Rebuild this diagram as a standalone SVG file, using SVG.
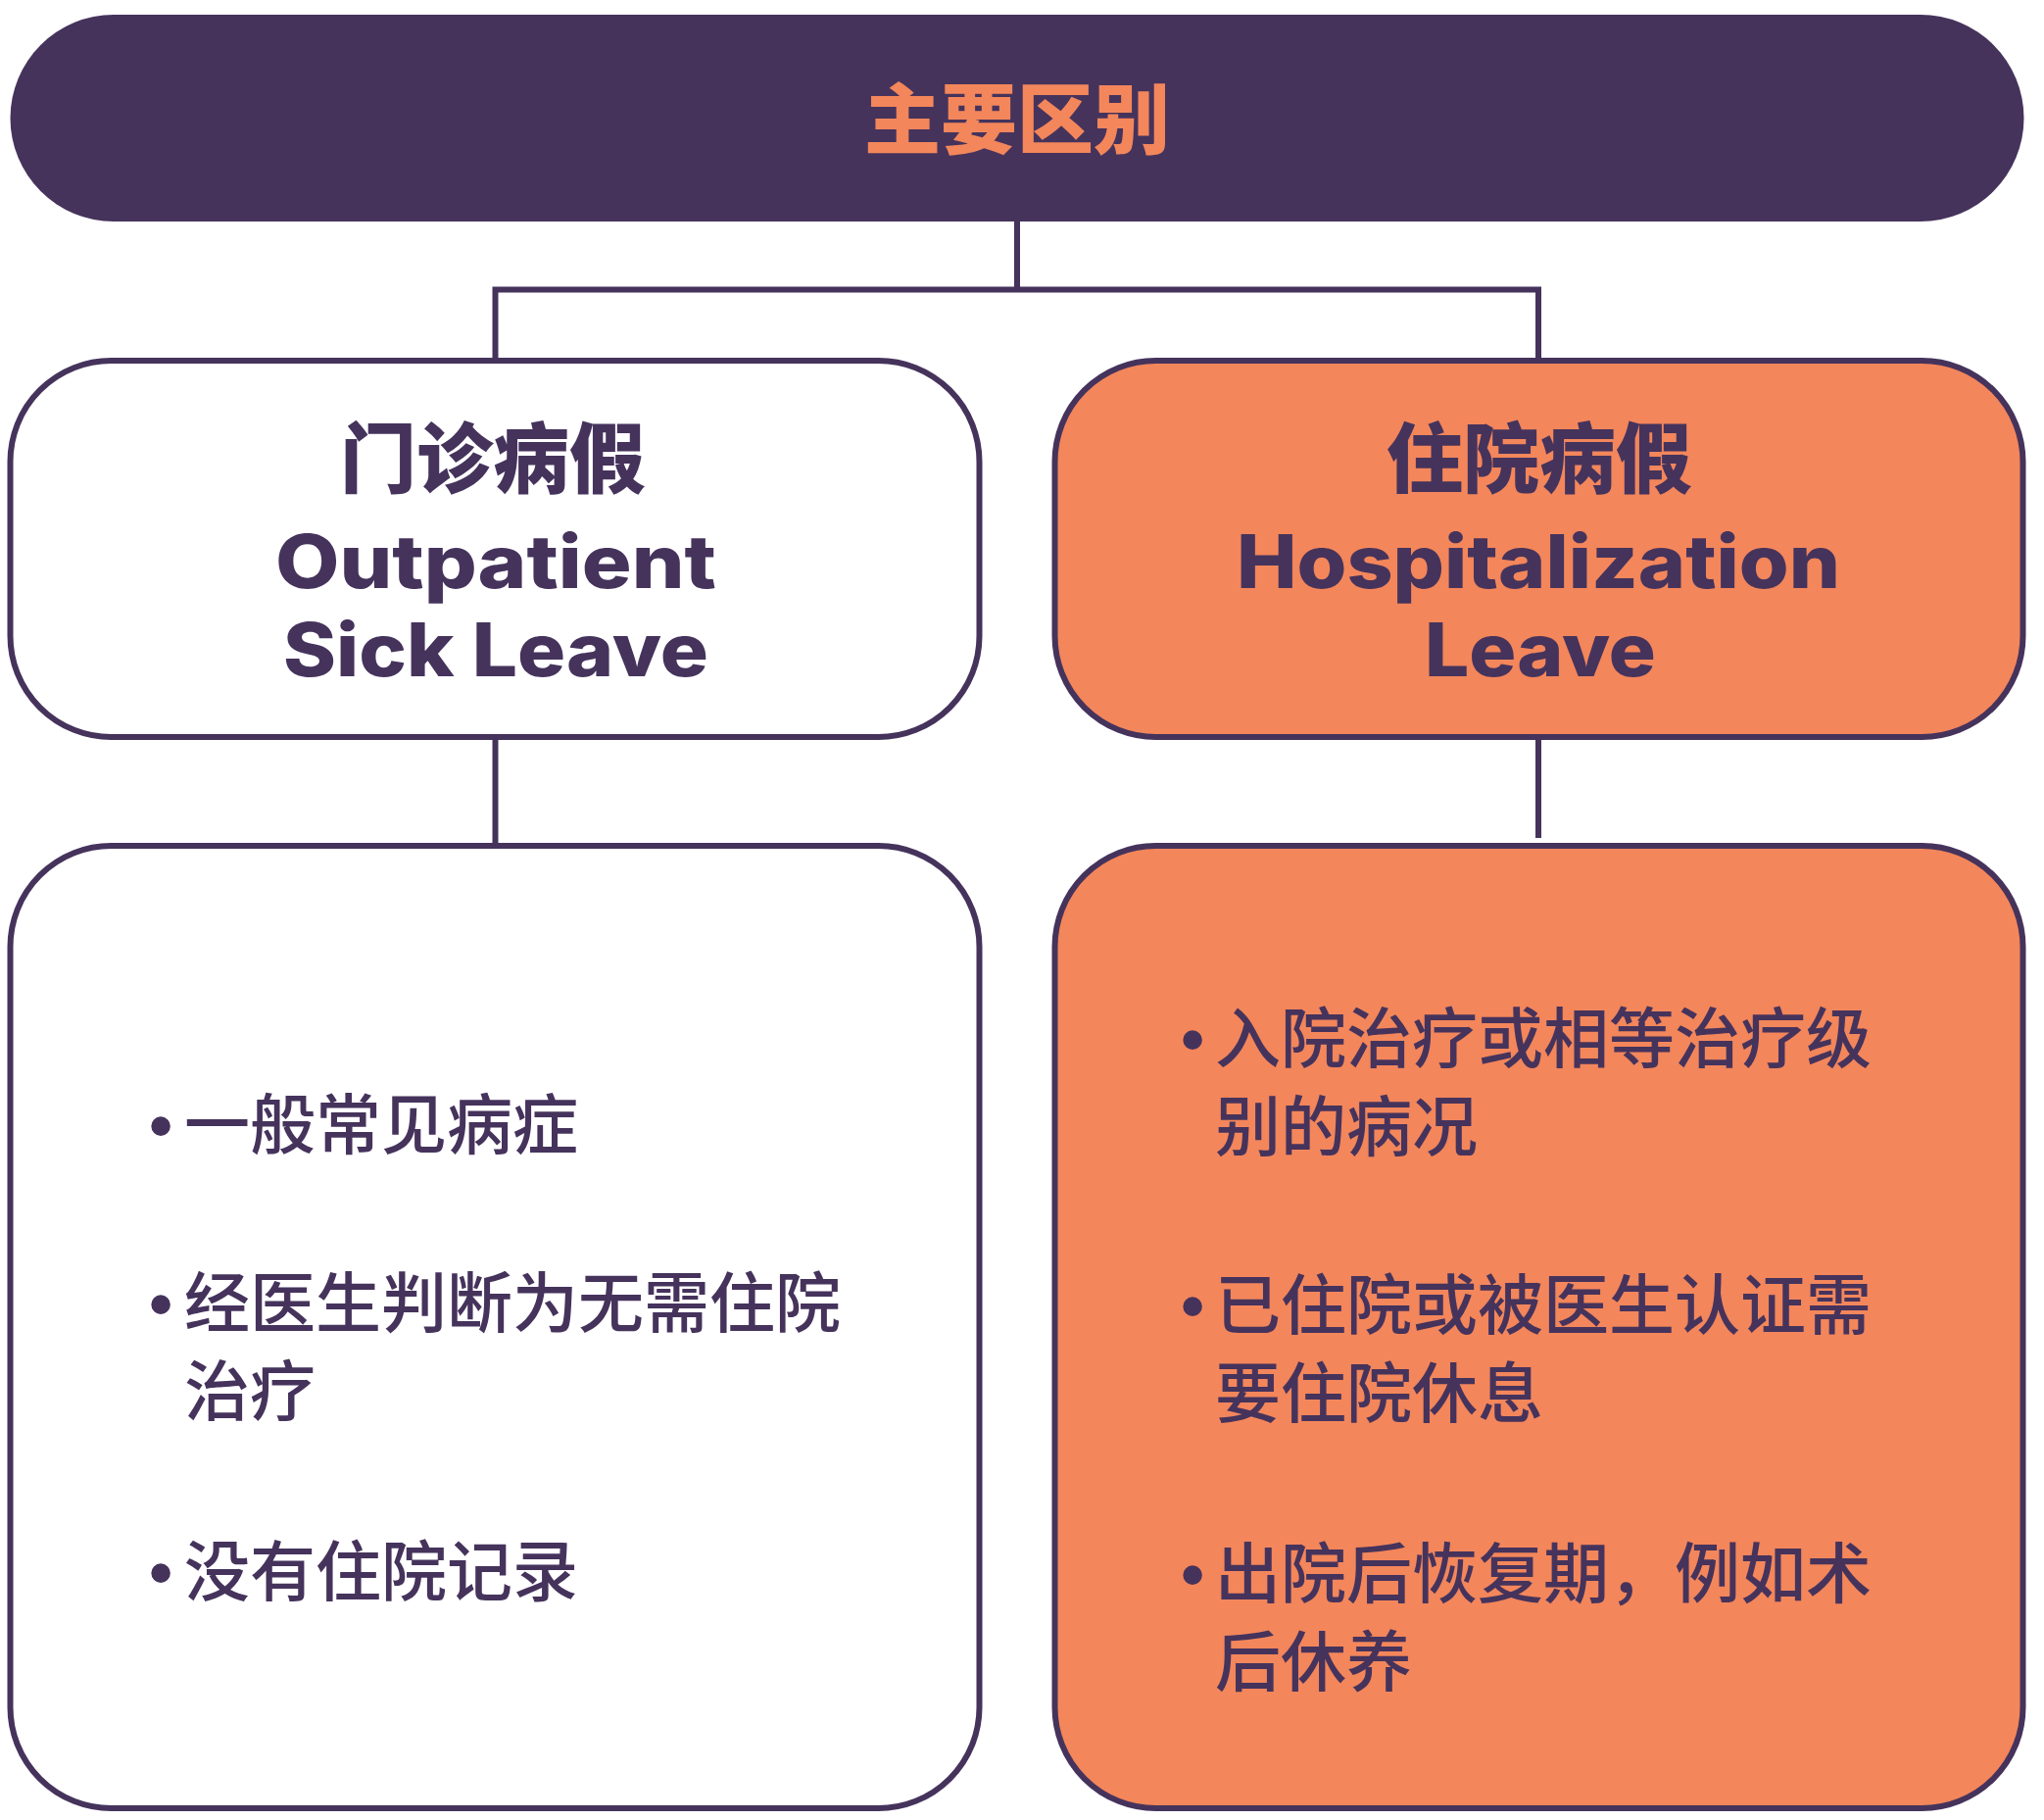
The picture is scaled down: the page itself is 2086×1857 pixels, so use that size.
<svg xmlns="http://www.w3.org/2000/svg" width="2086" height="1857" viewBox="0 0 2086 1857">
<style>
.bar{fill:#45335C}
.box{stroke:#45335C;stroke-width:6}
.white{fill:#FFFFFF}
.orange{fill:#F3865B}
.conn{fill:none;stroke:#45335C;stroke-width:6}
.cjkT{font-family:"Noto Sans CJK SC","Noto Sans CJK TC",sans-serif;font-weight:900;font-size:78px;text-anchor:middle}
.en{font-family:Inter,"Noto Sans",sans-serif;font-weight:800;font-size:75px;text-anchor:middle;fill:#45335C}
.body{font-family:"Noto Sans CJK SC","Noto Sans CJK TC",sans-serif;font-weight:500;font-size:67px;fill:#45335C}
.dot{font-family:"Liberation Sans",sans-serif;font-size:72px;fill:#45335C;text-anchor:middle}
</style>
<rect width="2086" height="1857" fill="#FFFFFF"/>
<g id="connectors">
<path class="conn" d="M1038 224 V295.5"/>
<path class="conn" d="M505.5 368 V295.5 H1570 V368"/>
<path class="conn" d="M505.5 752 V863"/>
<path class="conn" d="M1570 752 V855"/>
</g>
<g id="node-main">
<rect class="bar" x="10.5" y="15" width="2055" height="211" rx="105.5" ry="105.5"/>
<text class="cjkT" x="1038" y="151" fill="#F3865B">主要区别</text>
</g>
<g id="node-outpatient">
<rect class="box white" x="10.5" y="368" width="989" height="384" rx="103" ry="103"/>
<text class="cjkT" x="503" y="497" fill="#45335C">门诊病假</text>
<text class="en" x="506" y="600" textLength="450" lengthAdjust="spacingAndGlyphs">Outpatient</text>
<text class="en" x="506" y="690" textLength="434" lengthAdjust="spacingAndGlyphs">Sick Leave</text>
</g>
<g id="node-hospitalization">
<rect class="box orange" x="1076.5" y="368" width="988" height="384" rx="103" ry="103"/>
<text class="cjkT" x="1571" y="497" fill="#45335C">住院病假</text>
<text class="en" x="1570" y="600" textLength="616" lengthAdjust="spacingAndGlyphs">Hospitalization</text>
<text class="en" x="1572" y="690" textLength="236" lengthAdjust="spacingAndGlyphs">Leave</text>
</g>
<g id="node-outpatient-details">
<rect class="box white" x="10.5" y="863" width="989" height="982" rx="103" ry="103"/>
<text class="dot" x="164" y="1173">•</text>
<text class="body" x="188" y="1172">一般常见病症</text>
<text class="dot" x="164" y="1355">•</text>
<text class="body" x="188" y="1354">经医生判断为无需住院</text>
<text class="body" x="188" y="1444">治疗</text>
<text class="dot" x="164" y="1629">•</text>
<text class="body" x="188" y="1628">没有住院记录</text>
</g>
<g id="node-hospitalization-details">
<rect class="box orange" x="1076.5" y="863" width="988" height="982" rx="103" ry="103"/>
<text class="dot" x="1217" y="1085">•</text>
<text class="body" x="1240" y="1084">入院治疗或相等治疗级</text>
<text class="body" x="1240" y="1174">别的病况</text>
<text class="dot" x="1217" y="1357">•</text>
<text class="body" x="1240" y="1356">已住院或被医生认证需</text>
<text class="body" x="1240" y="1446">要住院休息</text>
<text class="dot" x="1217" y="1631">•</text>
<text class="body" x="1240" y="1630">出院后恢复期，例如术</text>
<text class="body" x="1240" y="1720">后休养</text>
</g>
</svg>
